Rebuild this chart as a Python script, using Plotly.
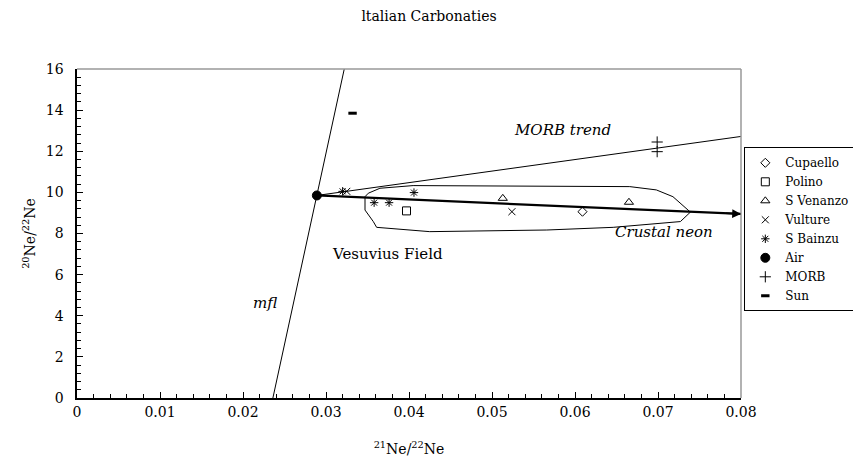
import plotly.graph_objects as go

# ---- data ----
cupaello_x = [0.0609]
cupaello_y = [9.06]
polino_x = [0.0397]
polino_y = [9.10]
svenanzo_x = [0.0513, 0.0665]
svenanzo_y = [9.71, 9.52]
vulture_x = [0.0325, 0.0524]
vulture_y = [10.05, 9.06]
sbainzu_x = [0.0320, 0.0358, 0.0376, 0.0406]
sbainzu_y = [10.05, 9.50, 9.50, 9.99]
air_x = [0.0289]
air_y = [9.85]
morb_x = [0.0699, 0.0699]
morb_y = [12.45, 11.98]
sun_x = [0.0332]
sun_y = [13.85]

mfl_x = [0.0236, 0.0322]
mfl_y = [0.0, 16.0]
morb_trend_x = [0.0289, 0.0800]
morb_trend_y = [9.85, 12.72]
crustal_x = [0.0289, 0.0800]
crustal_y = [9.85, 8.95]

vesuvius_x = [0.0347, 0.0347, 0.0357, 0.0361, 0.0425, 0.0566, 0.0646, 0.0727,
              0.0739, 0.0718, 0.0698, 0.0666, 0.0405, 0.0365, 0.0351, 0.0347]
vesuvius_y = [9.79, 9.14, 8.58, 8.30, 8.09, 8.17, 8.30, 8.58,
              9.04, 9.79, 10.12, 10.28, 10.33, 10.20, 9.96, 9.79]

x_ticks = [0, 0.01, 0.02, 0.03, 0.04, 0.05, 0.06, 0.07, 0.08]
x_ticklabels = ["0", "0.01", "0.02", "0.03", "0.04", "0.05", "0.06", "0.07", "0.08"]

FONT = "DejaVu Serif"

fig = go.Figure()

# lines
fig.add_trace(go.Scatter(x=mfl_x, y=mfl_y, mode="lines", line=dict(color="black", width=1),
                         showlegend=False, hoverinfo="skip"))
fig.add_trace(go.Scatter(x=morb_trend_x, y=morb_trend_y, mode="lines", line=dict(color="black", width=1),
                         showlegend=False, hoverinfo="skip"))
fig.add_trace(go.Scatter(x=vesuvius_x, y=vesuvius_y, mode="lines", line=dict(color="black", width=1),
                         showlegend=False, hoverinfo="skip"))
fig.add_trace(go.Scatter(x=crustal_x, y=crustal_y, mode="lines", line=dict(color="black", width=2.2),
                         showlegend=False, hoverinfo="skip"))

# arrow head for crustal neon line
fig.add_annotation(x=crustal_x[1], y=crustal_y[1], ax=crustal_x[1] - 0.002,
                   ay=crustal_y[1] + (crustal_y[0] - crustal_y[1]) * 0.002 / (crustal_x[1] - crustal_x[0]),
                   xref="x", yref="y", axref="x", ayref="y", text="", showarrow=True,
                   arrowhead=2, arrowsize=1.1, arrowwidth=1.6, arrowcolor="black")

mk = dict(color="black", line=dict(color="black", width=1))
fig.add_trace(go.Scatter(x=cupaello_x, y=cupaello_y, mode="markers", name="Cupaello",
                         marker=dict(symbol="diamond-open", size=7, **mk)))
fig.add_trace(go.Scatter(x=polino_x, y=polino_y, mode="markers", name="Polino",
                         marker=dict(symbol="square-open", size=8, **mk)))
fig.add_trace(go.Scatter(x=svenanzo_x, y=svenanzo_y, mode="markers", name="S Venanzo",
                         marker=dict(symbol="triangle-up-open", size=8, **mk)))
fig.add_trace(go.Scatter(x=vulture_x, y=vulture_y, mode="markers", name="Vulture",
                         marker=dict(symbol="x-thin-open", size=7, **mk)))
fig.add_trace(go.Scatter(x=sbainzu_x, y=sbainzu_y, mode="markers", name="S Bainzu",
                         marker=dict(symbol="asterisk-open", size=7, **mk)))
fig.add_trace(go.Scatter(x=air_x, y=air_y, mode="markers", name="Air",
                         marker=dict(symbol="circle", size=9, **mk)))
fig.add_trace(go.Scatter(x=morb_x, y=morb_y, mode="markers", name="MORB",
                         marker=dict(symbol="cross-thin-open", size=8, **mk)))
fig.add_trace(go.Scatter(x=sun_x, y=sun_y, mode="markers", name="Sun",
                         marker=dict(symbol="line-ew-open", size=6, color="black",
                                     line=dict(color="black", width=3))))

# text labels
labels = [
    ("<i>MORB trend</i>", 0.0585, 13.05),
    ("<i>Crustal neon</i>", 0.0707, 8.07),
    ("Vesuvius Field", 0.0374, 7.0),
    ("<i>mfl</i>", 0.0227, 4.6),
]
for t, x, y in labels:
    fig.add_annotation(x=x, y=y, xref="x", yref="y", text=t, showarrow=False,
                       font=dict(family=FONT, size=15, color="black"))

# gray top/right frame
fig.add_shape(type="line", xref="x domain", yref="y domain", x0=0, x1=1, y0=1, y1=1,
              line=dict(color="#999999", width=1.5))
fig.add_shape(type="line", xref="x domain", yref="y domain", x0=1, x1=1, y0=0, y1=1,
              line=dict(color="#999999", width=1.5))

# the page places the figure 8px from the window's top-left corner
fig.update_layout(
    width=853, height=456,
    margin=dict(l=69, r=120, t=61, b=66, autoexpand=False),
    paper_bgcolor="white", plot_bgcolor="white",
    font=dict(family=FONT, size=14, color="black"),
    title=dict(text="ltalian Carbonaties", x=0.4936, xref="container", xanchor="center",
               y=0.982, yanchor="middle",
               font=dict(family=FONT, size=14, color="black")),
    showlegend=True,
    legend=dict(x=1.005, y=0.762, xanchor="left", yanchor="top",
                bordercolor="black", borderwidth=1, bgcolor="white",
                font=dict(family=FONT, size=12, color="black"),
                itemwidth=30, tracegroupgap=0, itemsizing="trace"),
    xaxis=dict(range=[0, 0.08], tickvals=x_ticks, ticktext=x_ticklabels,
               showgrid=False, zeroline=False, automargin=False,
               showline=True, linecolor="black", linewidth=1.5,
               ticks="inside", ticklen=6, tickcolor="black",
               minor=dict(dtick=0.002, ticks="inside", ticklen=4, tickcolor="black", showgrid=False),
               tickfont=dict(family=FONT, size=14),
               title=dict(text="<sup>21</sup>Ne/<sup>22</sup>Ne", font=dict(family=FONT, size=14), standoff=26)),
    yaxis=dict(range=[0, 16], dtick=2, showgrid=False, zeroline=False, automargin=False,
               showline=True, linecolor="black", linewidth=1.5,
               ticks="inside", ticklen=6, tickcolor="black", ticksuffix="\u00a0\u00a0",
               minor=dict(dtick=0.4, ticks="inside", ticklen=4, tickcolor="black", showgrid=False),
               tickfont=dict(family=FONT, size=14),
               title=dict(text="<sup>20</sup>Ne/<sup>22</sup>Ne", font=dict(family=FONT, size=14), standoff=7)),
)

fig.write_html("out.html")
